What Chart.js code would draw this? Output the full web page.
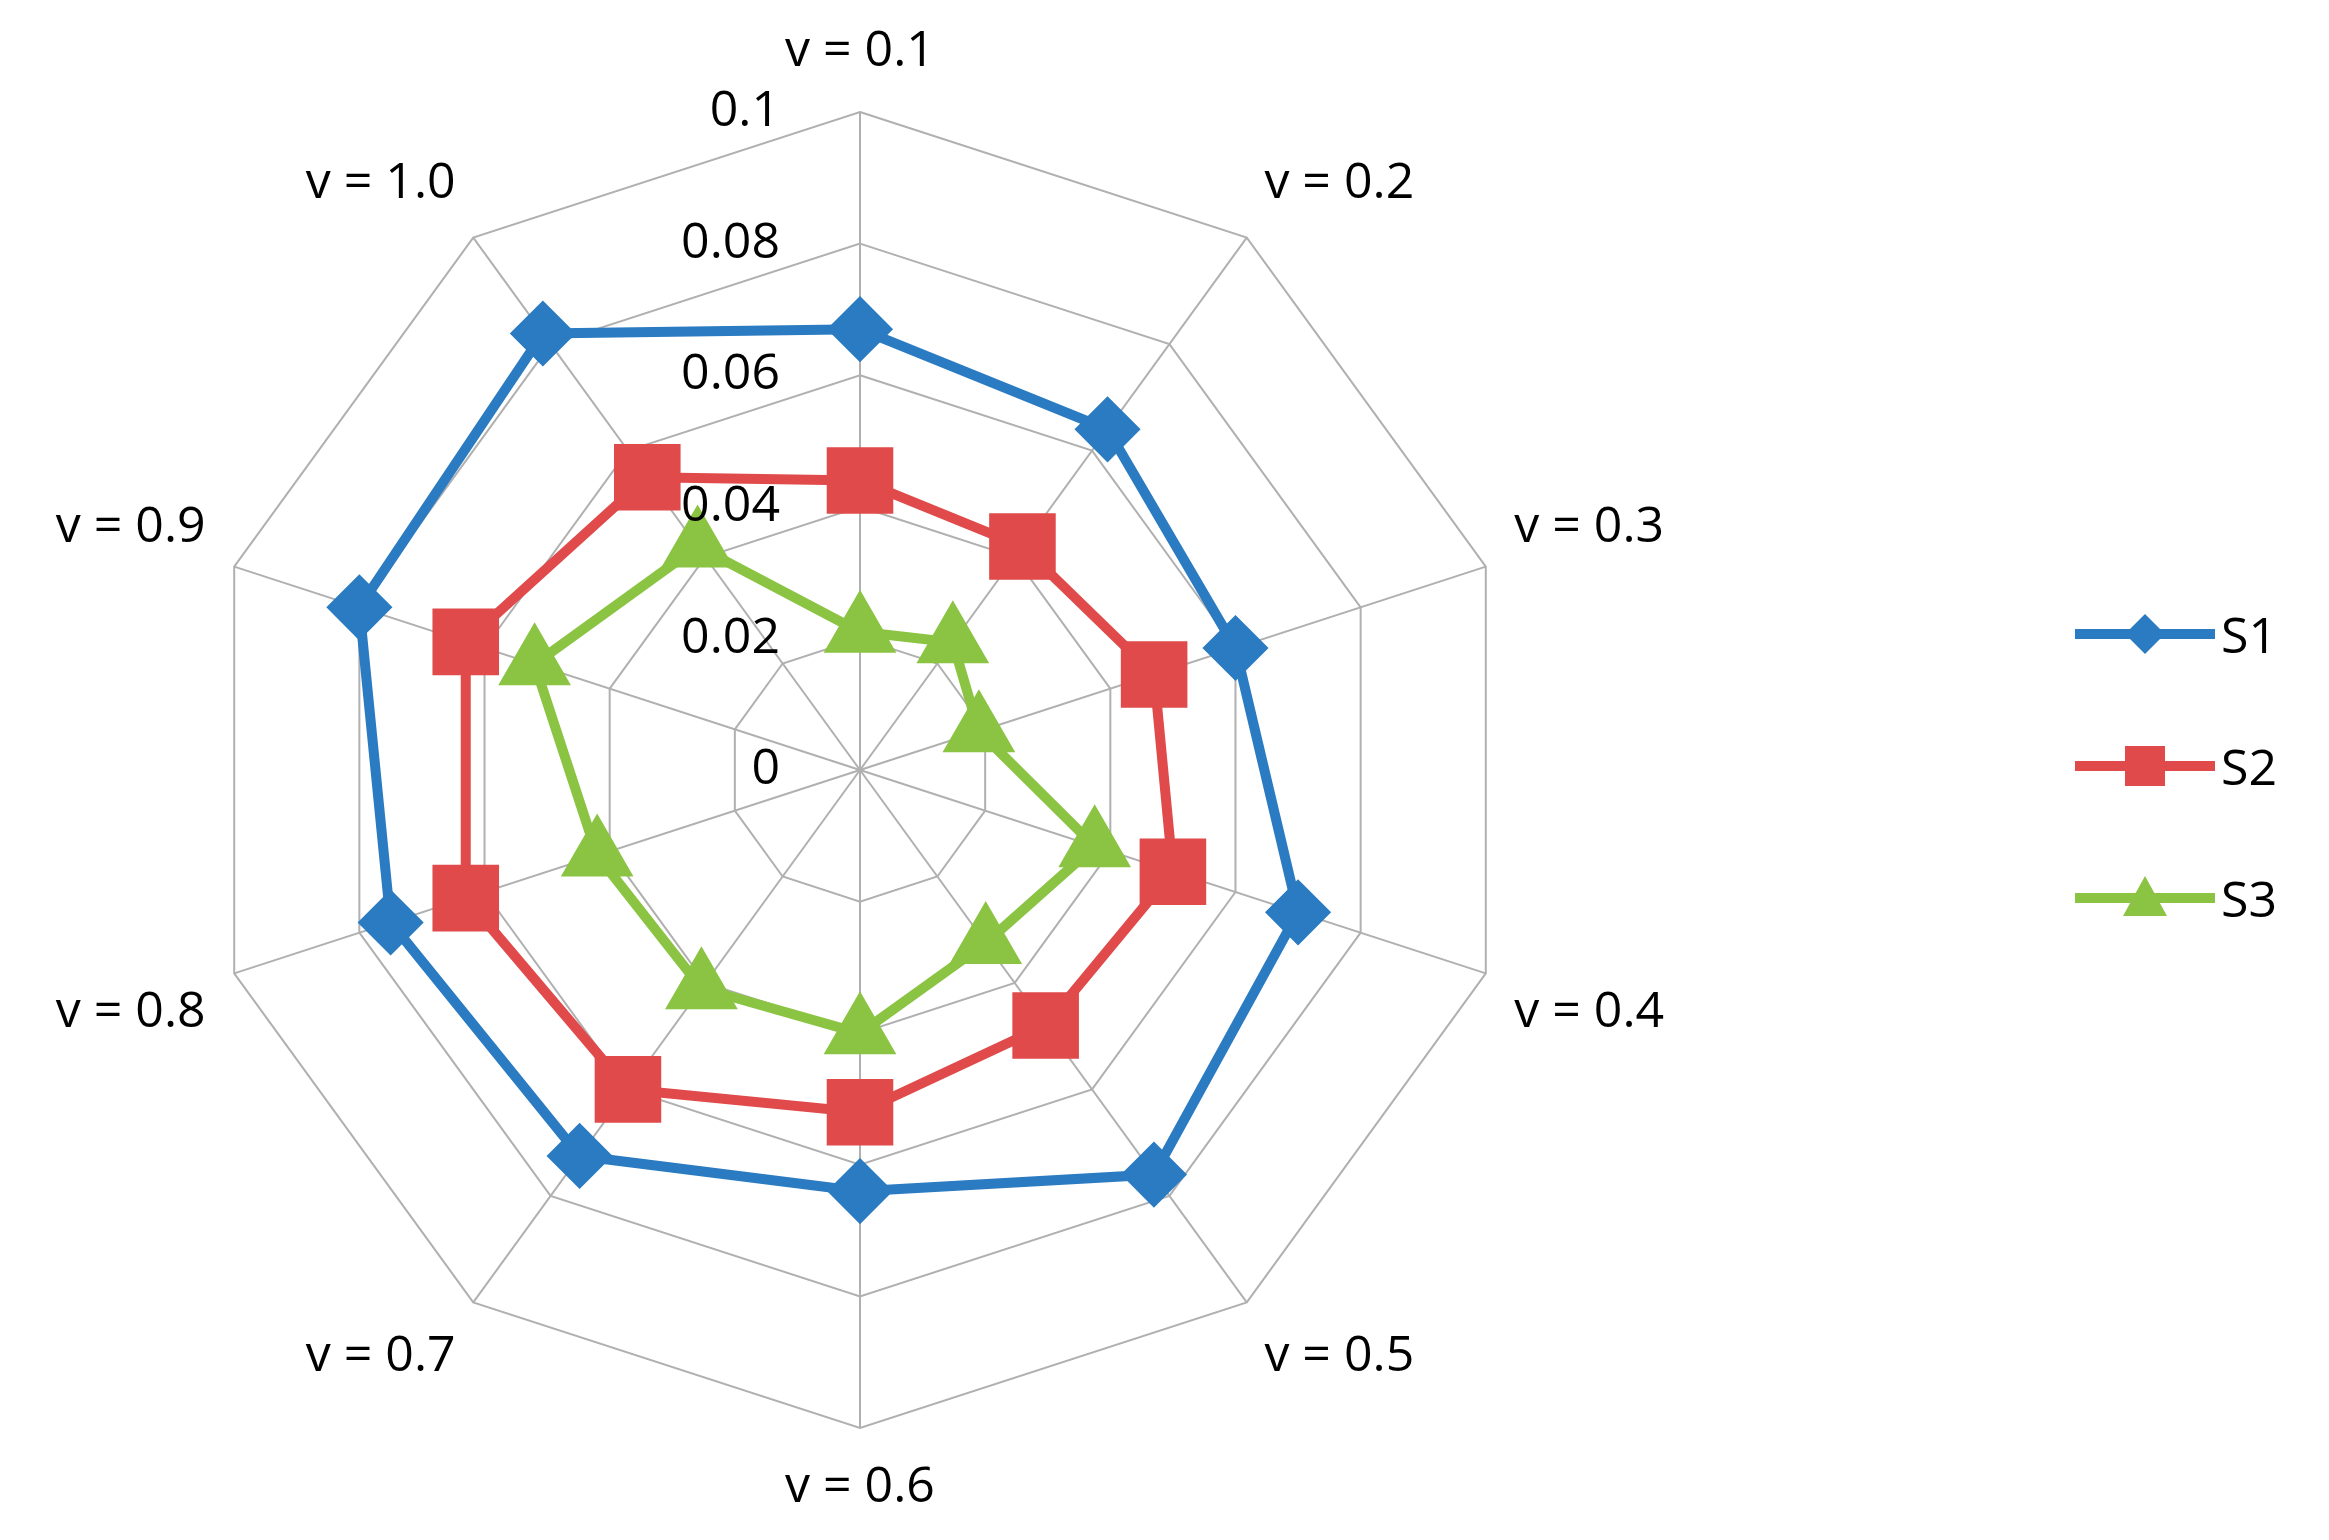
<!DOCTYPE html>
<html><head><meta charset="utf-8">
<script src="https://cdn.jsdelivr.net/npm/chart.js@4"></script>
<style>
body{margin:0;background:#fff;width:2329px;height:1540px;overflow:hidden;position:relative;font-family:"Open Sans",sans-serif}
#wrap{position:absolute;left:0;top:0;width:1722px;height:1540px}
#legend{position:absolute;left:2075px;top:568px}
.item{display:flex;align-items:center;height:132px;font-size:50px;color:#000}
.item svg{margin-right:6px}
</style></head><body>
<div id="wrap"><canvas id="c"></canvas></div>
<div id="legend"></div>
<script>
const labels = ['v = 0.1','v = 0.2','v = 0.3','v = 0.4','v = 0.5','v = 0.6','v = 0.7','v = 0.8','v = 0.9','v = 1.0'];
const s1 = [0.067,0.064,0.060,0.070,0.076,0.064,0.0725,0.075,0.080,0.082];
const s2 = [0.044,0.042,0.047,0.050,0.048,0.052,0.060,0.063,0.063,0.055];
const s3 = [0.021,0.024,0.019,0.0375,0.0325,0.040,0.041,0.042,0.052,0.042];
const tickValues = [0,0.02,0.04,0.06,0.08,0.1];
const tickLabels = ['0','0.02','0.04','0.06','0.08','0.1'];

const series = [
  { label: 'S1', data: s1, color: '#2a7bc1', style: 'rectRot', r: 26 },
  { label: 'S2', data: s2, color: '#e04a4a', style: 'rect', r: 40 },
  { label: 'S3', data: s3, color: '#8bc443', style: 'triangle', r: 32 },
];

// tick labels drawn left of the vertical axis
const tickPlugin = {
  id: 'ticksLeft',
  afterDraw(chart) {
    const sc = chart.scales.r, ctx = chart.ctx;
    ctx.save();
    ctx.font = '50px "Open Sans"';
    ctx.fillStyle = '#000';
    ctx.textAlign = 'right';
    ctx.textBaseline = 'middle';
    tickValues.forEach((v, i) => {
      const p = sc.getPointPositionForValue(0, v);
      ctx.fillText(tickLabels[i], p.x - 80, p.y);
    });
    ctx.restore();
  }
};

new Chart(document.getElementById('c'), {
  type: 'radar',
  data: {
    labels,
    datasets: series.map(s => ({
      label: s.label, data: s.data, borderColor: s.color, backgroundColor: s.color,
      pointBackgroundColor: s.color, pointBorderColor: s.color, pointStyle: s.style,
      pointRadius: s.r, borderWidth: 10, fill: false, tension: 0
    }))
  },
  options: {
    responsive: true, maintainAspectRatio: false, animation: false,
    layout: { padding: { top: 22, bottom: 22, left: 10, right: 10 } },
    plugins: { legend: { display: false }, tooltip: { enabled: false } },
    scales: {
      r: {
        min: 0, max: 0.1,
        ticks: { stepSize: 0.02, display: false },
        grid: { color: '#b0b0b0', lineWidth: 2 },
        angleLines: { color: '#b0b0b0', lineWidth: 2 },
        pointLabels: { font: { size: 50, family: '"Open Sans"' }, color: '#000', padding: 30 }
      }
    }
  },
  plugins: [tickPlugin]
});

document.getElementById('legend').innerHTML = series.map(s => {
  let m;
  if (s.style === 'rectRot') m = `<polygon points="70,26 90,46 70,66 50,46" fill="${s.color}"/>`;
  else if (s.style === 'rect') m = `<rect x="50" y="26" width="40" height="40" fill="${s.color}"/>`;
  else m = `<polygon points="70,24 92,64 48,64" fill="${s.color}"/>`;
  return `<div class="item"><svg width="140" height="92"><line x1="0" y1="46" x2="140" y2="46" stroke="${s.color}" stroke-width="10"/>${m}</svg>${s.label}</div>`;
}).join('');
</script>
</body></html>
